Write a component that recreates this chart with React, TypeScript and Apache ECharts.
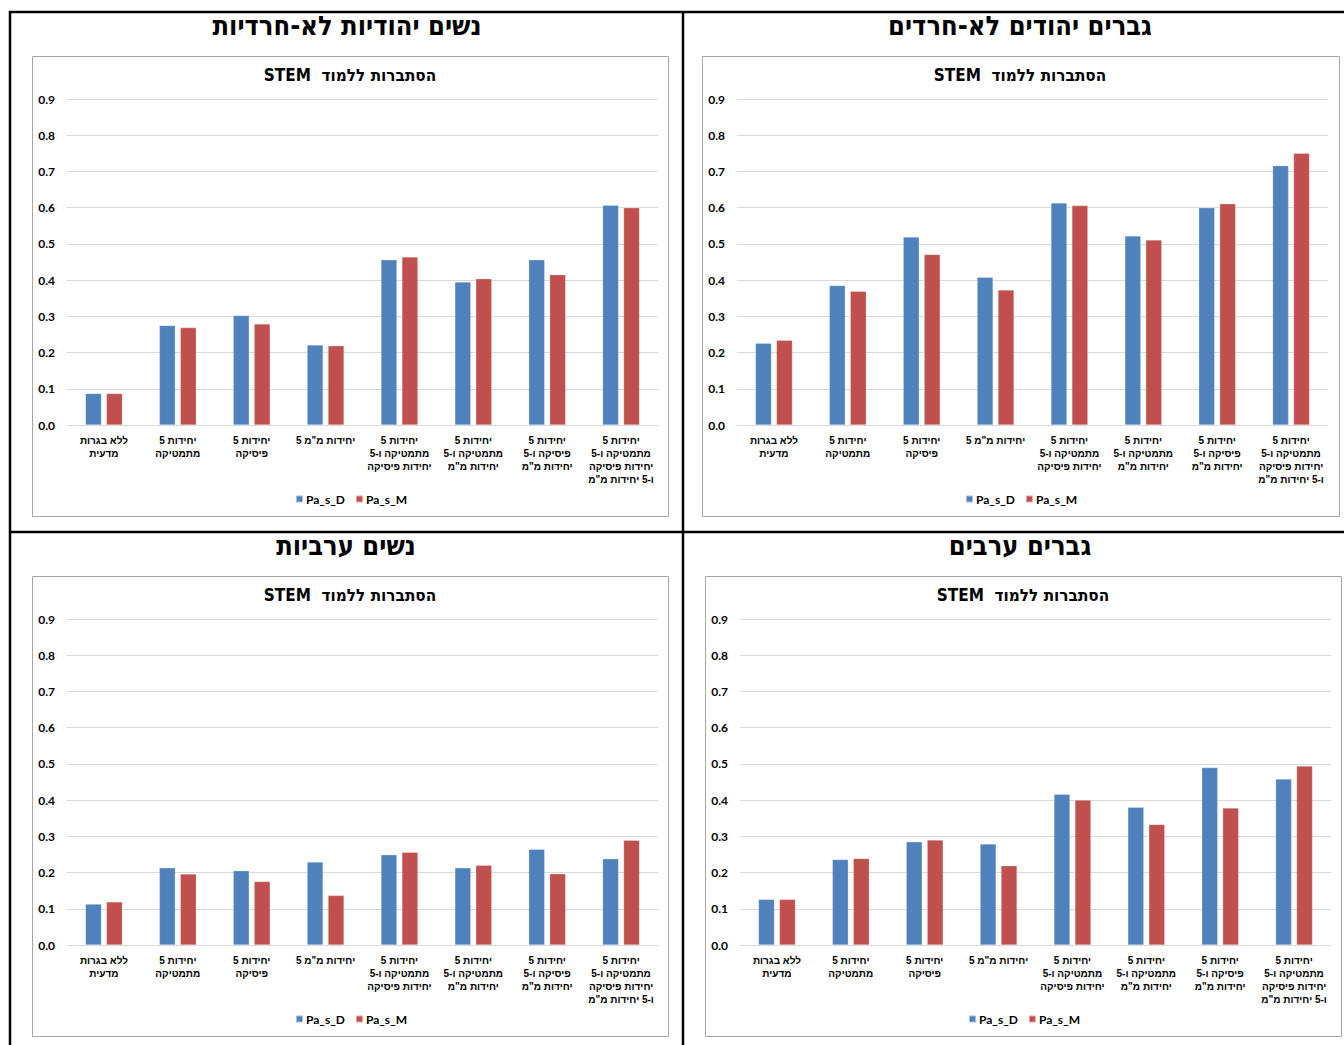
import React, { useEffect, useRef } from "react";
import * as echarts from "echarts";

// Category labels (left to right), with line breaks as set in the chart
const categories = [
  "ללא בגרות\nמדעית",
  "5 יחידות\nמתמטיקה",
  "5 יחידות\nפיסיקה",
  '5 יחידות מ"מ',
  "5 יחידות\nמתמטיקה ו-5\nיחידות פיסיקה",
  '5 יחידות\nמתמטיקה ו-5\nיחידות מ"מ',
  '5 יחידות\nפיסיקה ו-5\nיחידות מ"מ',
  '5 יחידות\nמתמטיקה ו-5\nיחידות פיסיקה\nו-5 יחידות מ"מ',
];

const seriesNames = ["Pa_s_D", "Pa_s_M"];

// Probability of studying STEM, per group
const jewishWomenD = [0.087, 0.275, 0.302, 0.221, 0.456, 0.395, 0.456, 0.607];
const jewishWomenM = [0.087, 0.269, 0.279, 0.219, 0.464, 0.404, 0.415, 0.6];
const jewishMenD = [0.226, 0.385, 0.519, 0.408, 0.613, 0.522, 0.6, 0.716];
const jewishMenM = [0.234, 0.369, 0.471, 0.373, 0.606, 0.511, 0.611, 0.75];
const arabWomenD = [0.113, 0.213, 0.205, 0.229, 0.249, 0.213, 0.264, 0.238];
const arabWomenM = [0.119, 0.196, 0.175, 0.137, 0.256, 0.22, 0.197, 0.289];
const arabMenD = [0.126, 0.236, 0.285, 0.279, 0.416, 0.38, 0.49, 0.458];
const arabMenM = [0.126, 0.239, 0.29, 0.219, 0.4, 0.333, 0.378, 0.494];

const panelTitles = [
  "נשים יהודיות לא-חרדיות",
  "גברים יהודים לא-חרדים",
  "נשים ערביות",
  "גברים ערבים",
];
const chartTitle = "\u202Bהסתברות ללמוד  STEM\u202C";

const yTicks = { min: 0, max: 0.9, interval: 0.1 };

const COLORS = ["#4F81BD", "#C0504D"];
const TICK_FONT = "Lato, 'Open Sans', sans-serif";
const HEB_FONT = "'Liberation Sans', Arial, sans-serif";
const HEAD_FONT = "'DejaVu Sans Condensed', 'Liberation Sans', sans-serif";

// Panel boxes: chart frame position and the heading above it
const panels = [
  { bx: 32, by: 56, bw: 636, tx: 347, ty: 25, d: jewishWomenD, m: jewishWomenM },
  { bx: 702, by: 56, bw: 637, tx: 1020, ty: 25, d: jewishMenD, m: jewishMenM },
  { bx: 32, by: 576, bw: 636, tx: 346, ty: 545, d: arabWomenD, m: arabWomenM },
  { bx: 705, by: 576, bw: 636, tx: 1020, ty: 545, d: arabMenD, m: arabMenM },
];
const BOX_H = 460;

export default function App() {
  const ref = useRef<HTMLDivElement>(null);

  useEffect(() => {
    if (!ref.current) return;
    const chart = echarts.init(ref.current, undefined, { renderer: "svg" });

    const grids: any[] = [];
    const xAxes: any[] = [];
    const yAxes: any[] = [];
    const series: any[] = [];
    const legends: any[] = [];
    const graphics: any[] = [];

    // table frame lines
    const frame = { stroke: "#000", lineWidth: 2.5 };
    graphics.push(
      { type: "line", shape: { x1: 9, y1: 12, x2: 1344, y2: 12 }, style: frame },
      { type: "line", shape: { x1: 10, y1: 11, x2: 10, y2: 1045 }, style: frame },
      { type: "line", shape: { x1: 683, y1: 11, x2: 683, y2: 1045 }, style: frame },
      { type: "line", shape: { x1: 9, y1: 532, x2: 1344, y2: 532 }, style: frame }
    );

    panels.forEach((p, i) => {
      graphics.push({
        type: "rect",
        shape: { x: p.bx + 0.5, y: p.by + 0.5, width: p.bw, height: BOX_H },
        style: { fill: "#fff", stroke: "#A6A6A6", lineWidth: 1 },
        z: -1,
      });
      graphics.push({
        type: "text",
        x: p.tx,
        y: p.ty,
        style: {
          text: panelTitles[i],
          font: `bold 27px ${HEAD_FONT}`,
          fill: "#000",
          textAlign: "center",
          textVerticalAlign: "middle",
        },
      });
      graphics.push({
        type: "text",
        x: p.bx + 318,
        y: p.by + 19,
        style: {
          text: chartTitle,
          font: `bold 17px ${HEAD_FONT}`,
          fill: "#000",
          textAlign: "center",
          textVerticalAlign: "middle",
        },
      });

      grids.push({
        left: p.bx + 35,
        top: p.by + 43,
        width: 591,
        height: 326,
        containLabel: false,
      });
      xAxes.push({
        type: "category",
        gridIndex: i,
        data: categories,
        axisTick: { show: false },
        axisLine: { lineStyle: { color: "#D9D9D9", width: 1 } },
        axisLabel: {
          interval: 0,
          margin: 9,
          color: "#000",
          fontFamily: HEB_FONT,
          fontWeight: "bold",
          fontSize: 10,
          lineHeight: 13,
        },
      });
      yAxes.push({
        type: "value",
        gridIndex: i,
        min: yTicks.min,
        max: yTicks.max,
        interval: yTicks.interval,
        axisLine: { show: false },
        axisTick: { show: false },
        splitLine: { lineStyle: { color: "#D9D9D9", width: 1 } },
        axisLabel: {
          margin: 12,
          color: "#000",
          fontFamily: TICK_FONT,
          fontWeight: "bold",
          fontSize: 12,
          formatter: (v: number) => v.toFixed(1),
        },
      });
      [p.d, p.m].forEach((vals, k) => {
        series.push({
          type: "bar",
          name: seriesNames[k],
          xAxisIndex: i,
          yAxisIndex: i,
          data: vals,
          barWidth: 16,
          barGap: "31%",
          itemStyle: { color: COLORS[k], borderColor: "rgba(255,255,255,0.5)", borderWidth: 0.5 },
        });
      });
      legends.push({
        data: seriesNames,
        left: p.bx + 263,
        top: p.by + 437,
        padding: 0,
        icon: "rect",
        itemWidth: 7,
        itemHeight: 7,
        itemGap: 10,
        textStyle: {
          fontFamily: TICK_FONT,
          fontWeight: "bold",
          fontSize: 12,
          color: "#000",
          padding: [0, 0, 0, -2],
        },
        selectedMode: false,
      });
    });

    chart.setOption({
      animation: false,
      color: COLORS,
      backgroundColor: "#fff",
      grid: grids,
      xAxis: xAxes,
      yAxis: yAxes,
      series,
      legend: legends,
      graphic: { elements: graphics },
    });

    return () => chart.dispose();
  }, []);

  return (
    <div
      ref={ref}
      style={{ position: "absolute", left: 0, top: 0, width: 1344, height: 1045 }}
    />
  );
}
